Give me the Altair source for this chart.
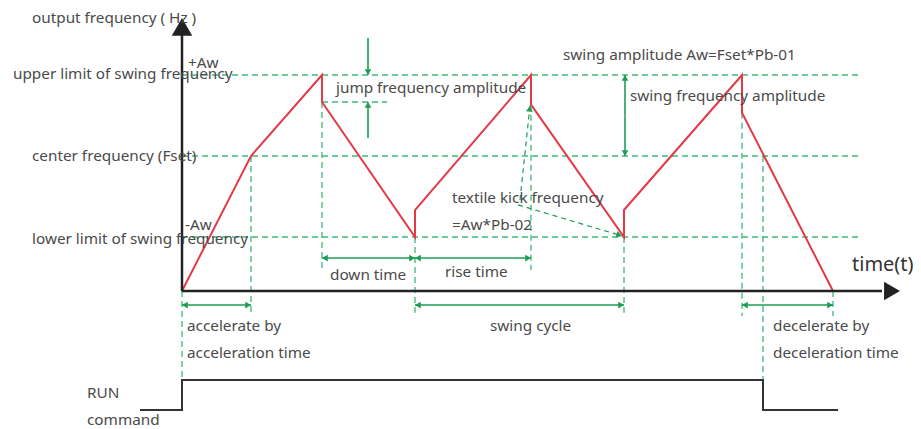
import math
import altair as alt
import pandas as pd

# ---------------- data (time units / frequency units) ----------------
F_UPPER, F_CENTER, F_LOWER = 80, 50, 20
wave_t = [0, 6.9, 14.0, 14.0, 23.3, 23.3, 34.9, 34.9, 44.2, 44.2, 56.0, 56.0, 65.1]
wave_f = [0, 50, 80, 70, 20, 30, 80, 69, 20, 30, 80, 66, 0]

run_t = [-4.2, 0, 0, 58.1, 58.1, 65.6]
run_f = [-44.1, -44.1, -33.0, -33.0, -44.1, -44.1]

level_f = [F_UPPER, F_CENTER, F_LOWER]
level_end = 67.8

vdash_t = [0, 6.9, 14.0, 23.3, 34.9, 44.2, 56.0, 58.1, 65.1]
vdash_top = [0, 50, 70, 20, 69, 20, 66, 50, 0]
vdash_bot = [-33.0, -8.9, 7.8, -8.1, 7.8, -8.1, -9.3, -33.0, -9.3]

# double-headed horizontal arrows: (t1, t2, f)
harrows = [(0, 6.9, -5.2), (23.3, 44.2, -5.2), (56.0, 65.1, -5.2),
           (14.0, 23.3, 12.2), (23.3, 34.9, 12.2)]
# single arrows: (from_t, from_f, tip_t, tip_f, dashed)
sarrows = [(44.3, 65, 44.3, 80, False), (44.3, 65, 44.3, 50, False),
           (18.6, 93.7, 18.6, 80, False), (18.6, 56.7, 18.6, 70, False),
           (33.8, 33.7, 34.8, 68.6, True), (33.6, 31.9, 44.0, 20.4, True)]

labels = [
    ("output frequency ( Hz )", -15.0, 101.1),
    ("+Aw", 0.6, 84.4),
    ("upper limit of swing frequency", -16.9, 80.4),
    ("center frequency (Fset)", -15.0, 50.0),
    ("-Aw", 0.3, 24.4),
    ("lower limit of swing frequency", -15.0, 19.3),
    ("jump frequency amplitude", 15.4, 75.2),
    ("swing amplitude Aw=Fset*Pb-01", 38.1, 87.4),
    ("swing frequency amplitude", 44.8, 72.2),
    ("textile kick frequency", 27.0, 34.4),
    ("=Aw*Pb-02", 27.0, 24.4),
    ("down time", 14.8, 6.0),
    ("rise time", 26.3, 7.0),
    ("accelerate by", 0.5, -13.0),
    ("acceleration time", 0.5, -23.0),
    ("swing  cycle", 30.8, -13.0),
    ("decelerate by", 59.1, -13.0),
    ("deceleration time", 59.1, -23.0),
    ("RUN", -9.5, -37.8),
    ("command", -9.5, -47.6),
]

# ---------------- layout ----------------
W, H = 905, 421
PX_T, PX_F = 10.0, 2.7
OX, OY = 174.0, 283.0
xs = alt.Scale(domain=[-OX / PX_T, (W - OX) / PX_T], nice=False, zero=False)
ys = alt.Scale(domain=[(OY - H) / PX_F, OY / PX_F], nice=False, zero=False)

GREEN_D = "#3dba74"
GREEN = "#1f9d58"
RED = "#e23a47"
TXT = "#4a4a4a"
FONT = "Noto Sans"

X = lambda f="t": alt.X(f"{f}:Q", scale=xs, axis=None)
Y = lambda f="f": alt.Y(f"{f}:Q", scale=ys, axis=None)


def head(ft, ff, tt, tf, size):
    dx = (tt - ft) * PX_T
    dy = -(tf - ff) * PX_F
    L = math.hypot(dx, dy)
    ux, uy = dx / L, dy / L
    back = math.sqrt(3) / 2 * math.sqrt(size) / 2
    ang = math.degrees(math.atan2(ux, -uy)) % 360
    return {"t": tt - ux * back / PX_T, "f": tf + uy * back / PX_F,
            "angle": ang, "size": size}


heads = []
shafts = []
dshafts = []
for t1, t2, f in harrows:
    shafts.append({"t": t1, "t2": t2, "f": f, "f2": f})
    heads.append(head(t2, f, t1, f, 45))
    heads.append(head(t1, f, t2, f, 45))
for ft, ff, tt, tf, dashed in sarrows:
    (dshafts if dashed else shafts).append({"t": ft, "t2": tt, "f": ff, "f2": tf})
    heads.append(head(ft, ff, tt, tf, 45))

axis_heads = [head(0, 90, 0, 101.1, 420), head(65, 0, 71.8, 0, 340)]

levels = pd.DataFrame({"t": [0] * 3, "t2": [level_end] * 3, "f": level_f})
lev = alt.Chart(levels).mark_rule(color=GREEN_D, strokeDash=[6, 4], strokeWidth=1.3).encode(
    x=X(), x2="t2:Q", y=Y())

vd = pd.DataFrame({"t": vdash_t, "f": vdash_top, "f2": vdash_bot})
vdl = alt.Chart(vd).mark_rule(color=GREEN_D, strokeDash=[6, 4], strokeWidth=1.3).encode(
    x=X(), y=Y(), y2="f2:Q")

jump = pd.DataFrame({"t": [14.0], "t2": [20.5], "f": [70]})
jl = alt.Chart(jump).mark_rule(color=GREEN_D, strokeDash=[6, 4], strokeWidth=1.3).encode(
    x=X(), x2="t2:Q", y=Y())

sh = alt.Chart(pd.DataFrame(shafts)).mark_rule(color=GREEN, strokeWidth=1.6).encode(
    x=X(), x2="t2:Q", y=Y(), y2="f2:Q")
dsh = alt.Chart(pd.DataFrame(dshafts)).mark_rule(color=GREEN, strokeWidth=1.2, strokeDash=[5, 4]).encode(
    x=X(), x2="t2:Q", y=Y(), y2="f2:Q")
hd = alt.Chart(pd.DataFrame(heads)).mark_point(shape="triangle-up", filled=True, color=GREEN, opacity=1).encode(
    x=X(), y=Y(), angle=alt.Angle("angle:Q", scale=None), size=alt.Size("size:Q", scale=None))

wave = pd.DataFrame({"t": wave_t, "f": wave_f, "o": list(range(len(wave_t)))})
wl = alt.Chart(wave).mark_line(color=RED, strokeWidth=2).encode(
    x=X(), y=Y(), order="o:Q")

axes = pd.DataFrame([{"t": 0, "t2": 0, "f": 0, "f2": 94.8}, {"t": 0, "t2": 70.0, "f": 0, "f2": 0}])
al = alt.Chart(axes).mark_rule(color="#222222", strokeWidth=2.5).encode(
    x=X(), x2="t2:Q", y=Y(), y2="f2:Q")
ah = alt.Chart(pd.DataFrame(axis_heads)).mark_point(shape="triangle-up", filled=True, color="#222222", opacity=1).encode(
    x=X(), y=Y(), angle=alt.Angle("angle:Q", scale=None), size=alt.Size("size:Q", scale=None))

run = pd.DataFrame({"t": run_t, "f": run_f, "o": list(range(len(run_t)))})
rl = alt.Chart(run).mark_line(color="#333333", strokeWidth=2).encode(
    x=X(), y=Y(), order="o:Q")

lab = pd.DataFrame(labels, columns=["text", "t", "f"])
tl = alt.Chart(lab).mark_text(align="left", baseline="middle", font=FONT, fontSize=15.3, color=TXT).encode(
    x=X(), y=Y(), text="text:N")
tt = alt.Chart(pd.DataFrame([{"text": "time(t)", "t": 67.0, "f": 9.6}])).mark_text(
    align="left", baseline="middle", font=FONT, fontSize=20, color="#333333").encode(
    x=X(), y=Y(), text="text:N")

chart = alt.layer(lev, vdl, jl, dsh, sh, hd, wl, al, ah, rl, tl, tt).properties(
    width=W, height=H, autosize=alt.AutoSizeParams(type="none"), padding=0
).configure_view(stroke=None)

chart.save("out.html", embed_options={"renderer": "svg", "actions": False})
